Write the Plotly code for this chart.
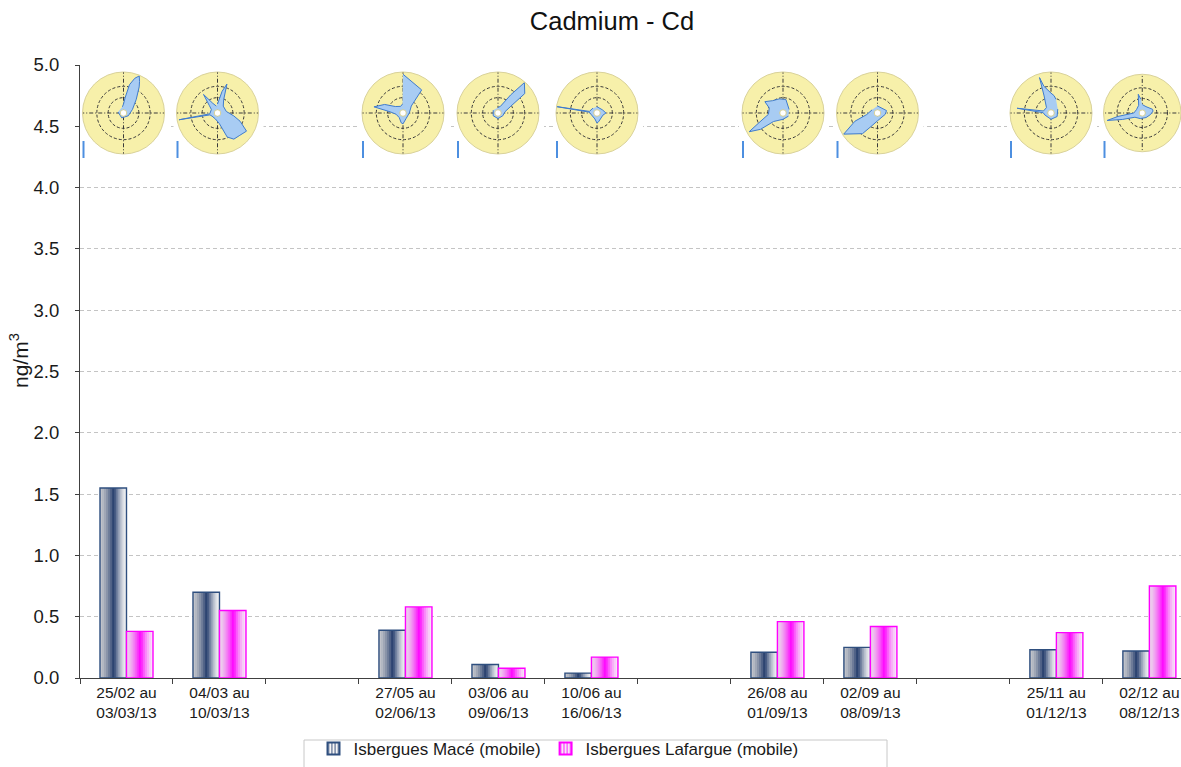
import plotly.graph_objects as go

# ---------------------------------------------------------------- data
periods = [
    "25/02 au<br>03/03/13", "04/03 au<br>10/03/13", " ",
    "27/05 au<br>02/06/13", "03/06 au<br>09/06/13", "10/06 au<br>16/06/13", "  ",
    "26/08 au<br>01/09/13", "02/09 au<br>08/09/13", "   ",
    "25/11 au<br>01/12/13", "02/12 au<br>08/12/13",
]
mace = [1.55, 0.70, None, 0.39, 0.11, 0.04, None, 0.21, 0.25, None, 0.23, 0.22]
lafargue = [0.38, 0.55, None, 0.58, 0.08, 0.17, None, 0.46, 0.42, None, 0.37, 0.75]

series_names = ["Isbergues Macé (mobile)", "Isbergues Lafargue (mobile)"]

# pollution roses (direction in degrees, radius on a 0-10 scale), one per sampled week
rose_theta = [
    [350, 0, 6, 12, 18, 23, 27, 31, 43, 68, 120, 200, 280],
    [0, 12, 18, 25, 40, 80, 100, 110, 122, 135, 148, 158, 170, 200, 240, 256, 260, 264, 300, 312, 323, 334, 350],
    [0, 39, 50, 90, 150, 180, 190, 220, 260, 275, 282, 295, 310, 340, 357],
    [0, 20, 35, 41, 54, 62, 80, 120, 180, 240, 300],
    [0, 60, 90, 110, 170, 180, 200, 260, 276, 279, 282, 320],
    [60, 12, 345, 320, 302, 290, 265, 248, 241, 234, 228, 180, 120],
    [0, 75, 100, 180, 205, 216, 238, 250, 262, 300],
    [20, 10, 0, 345, 342, 338, 320, 285, 278, 272, 250, 180, 120, 60],
    [0, 30, 70, 80, 100, 140, 200, 240, 252, 258, 262, 270, 300, 335, 348, 354],
]
rose_r = [
    [0.8, 1.5, 3.2, 6.8, 8.8, 9.8, 8.5, 7.2, 4.1, 1.7, 0.6, 0.5, 0.6],
    [1.5, 5.0, 7.2, 3.0, 1.5, 1.5, 3.5, 5.5, 8.2, 7.5, 7.3, 6.0, 2.0, 0.8, 0.8, 1.2, 9.5, 1.2, 1.0, 2.0, 5.3, 2.0, 1.0],
    [9.4, 7.0, 2.0, 0.8, 0.8, 2.0, 1.8, 0.7, 1.0, 2.5, 7.0, 4.5, 1.8, 1.0, 1.5],
    [0.6, 1.0, 5.0, 9.8, 7.9, 3.0, 1.0, 0.6, 0.6, 0.6, 0.6],
    [0.8, 0.8, 1.5, 0.8, 1.5, 1.8, 0.8, 0.8, 1.2, 10.0, 1.2, 0.8],
    [1.0, 2.8, 3.0, 3.4, 4.8, 3.0, 3.0, 6.0, 9.4, 6.5, 2.5, 0.8, 0.8],
    [1.0, 1.6, 1.2, 1.2, 3.0, 5.9, 9.7, 5.5, 2.0, 0.8],
    [3.0, 3.8, 4.4, 6.5, 9.0, 4.0, 1.0, 1.2, 8.2, 1.2, 0.8, 0.8, 1.0, 1.2],
    [1.5, 1.2, 2.2, 2.2, 1.5, 0.8, 0.8, 1.5, 5.0, 9.2, 6.0, 1.5, 1.0, 1.5, 4.5, 3.0],
]

# ---------------------------------------------------------------- layout constants
FIG_W, FIG_H = 1181, 767
M_L, M_R, M_T, M_B = 80, 0, 65, 89
PLOT_W = FIG_W - M_L - M_R
PLOT_H = FIG_H - M_T - M_B
X_RANGE = [-0.5, 11.34]
SLOT_PX = PLOT_W / (X_RANGE[1] - X_RANGE[0])
FONT = "Liberation Sans, Arial, sans-serif"

BAR_W = 0.285
N_STRIPS = 13


def lerp(a, b, f):
    return tuple(round(a[i] + (b[i] - a[i]) * f) for i in range(3))


def shade(left, core, right, t, peak=0.52, power=1.5):
    if t < peak:
        f = (t / peak) ** power
        c = lerp(left, core, f)
    else:
        f = ((1 - t) / (1 - peak)) ** power
        c = lerp(right, core, f)
    return "rgb(%d,%d,%d)" % c


def px_x(px):
    return (px - M_L) / PLOT_W


def px_y(py):
    return (FIG_H - M_B - py) / PLOT_H


styles = [
    dict(left=(196, 198, 204), core=(36, 60, 108), right=(246, 246, 246),
         border="#2f4f7f", start=-BAR_W),
    dict(left=(236, 214, 236), core=(255, 0, 255), right=(246, 232, 246),
         border="#ff00ff", start=0.0),
]

fig = go.Figure()

# cylinder-shaded bars: stacked strips, each running to the bar's right edge
for values, st in zip([mace, lafargue], styles):
    step = BAR_W / N_STRIPS
    for k in range(N_STRIPS):
        t = (k + 0.5) / N_STRIPS
        fig.add_trace(go.Bar(
            x=periods, y=values,
            width=BAR_W - k * step, offset=st["start"] + k * step,
            marker=dict(color=shade(st["left"], st["core"], st["right"], t), line=dict(width=0)),
            showlegend=False, hoverinfo="skip",
        ))
    fig.add_trace(go.Bar(
        x=periods, y=values, width=BAR_W, offset=st["start"],
        marker=dict(color="rgba(0,0,0,0)", line=dict(color=st["border"], width=1.4)),
        showlegend=False, hoverinfo="skip",
    ))

# legend keys
for name, st in zip(series_names, styles):
    fig.add_trace(go.Bar(
        x=[None], y=[None], name=name,
        marker=dict(color="rgb(%d,%d,%d)" % st["right"],
                    line=dict(color=st["border"], width=1.2),
                    pattern=dict(shape="|", fgcolor="rgb(%d,%d,%d)" % st["core"],
                                 size=4, solidity=0.5)),
    ))

# ---------------------------------------------------------------- pollution roses
rose_cx = [123.5, 217.5, 403, 498, 597, 783, 877.5, 1051, 1144.5]
rose_cy = 113
rose_R = 41

shapes = []
polar_layouts = {}
for i, (th, rr) in enumerate(zip(rose_theta, rose_r)):
    key = "polar" if i == 0 else "polar%d" % (i + 1)
    cx = rose_cx[i]
    polar_layouts[key] = dict(
        domain=dict(x=[max(0.0, px_x(cx - rose_R)), min(1.0, px_x(cx + rose_R))],
                    y=[px_y(rose_cy + rose_R), px_y(rose_cy - rose_R)]),
        bgcolor="#f7f0aa",
        hole=0.08,
        radialaxis=dict(range=[0, 10], showticklabels=False, ticks="",
                        tickvals=[3.2, 6.2], showgrid=True, gridcolor="#3a3a3a",
                        gridwidth=0.8, griddash="3px,2px", showline=False),
        angularaxis=dict(rotation=90, direction="clockwise", showticklabels=False,
                         ticks="", tickvals=[0, 90, 180, 270], showgrid=True,
                         gridcolor="#3a3a3a", gridwidth=0.8, griddash="4px,2px,1px,2px",
                         showline=True, linecolor="#d9d29a", linewidth=1),
    )
    fig.add_trace(go.Scatterpolar(
        theta=th, r=rr, subplot=key, mode="lines", fill="toself",
        fillcolor="#a8ccf3", line=dict(color="#3f7bcc", width=1),
        showlegend=False, hoverinfo="skip",
    ))
    # white backing of each rose panel (hides the grid behind it)
    bx0 = (cx - 44 - M_L) / SLOT_PX + X_RANGE[0]
    bx1 = (cx + 46 - M_L) / SLOT_PX + X_RANGE[0]
    shapes.append(dict(type="rect", xref="x", yref="y", x0=bx0, x1=bx1, y0=4.22, y1=4.97,
                       fillcolor="white", line=dict(width=0), layer="between"))
    # small colour key in the lower-left corner of each rose panel
    shapes.append(dict(type="rect", xref="paper", yref="paper",
                       x0=px_x(cx - 41), x1=px_x(cx - 39),
                       y0=px_y(158), y1=px_y(141),
                       fillcolor="#4d8fe0", line=dict(width=0), layer="above"))

fig.update_layout(**polar_layouts)

# frame drawn around the legend
shapes.append(dict(type="rect", xref="paper", yref="paper",
                   x0=px_x(304), x1=px_x(887), y0=px_y(790), y1=px_y(740),
                   fillcolor="rgba(0,0,0,0)", line=dict(color="#c8c8c8", width=1),
                   layer="above"))

fig.update_layout(
    width=FIG_W, height=FIG_H,
    margin=dict(l=M_L, r=M_R, t=M_T, b=M_B, autoexpand=False),
    paper_bgcolor="white", plot_bgcolor="white",
    barmode="overlay",
    font=dict(family=FONT, color="#1a1a1a"),
    title=dict(text="Cadmium - Cd", x=612 / FIG_W, xanchor="center", xref="container",
               y=1 - 21 / FIG_H, yanchor="middle", yref="container",
               font=dict(size=25.5, family=FONT, color="#111")),
    xaxis=dict(type="category", categoryorder="array", categoryarray=periods,
               range=X_RANGE, tickson="boundaries", ticks="outside", ticklen=5,
               tickcolor="#404040", showline=True, linecolor="#404040", linewidth=1,
               showgrid=False, zeroline=False, tickfont=dict(size=15.5, color="#1a1a1a"),
               fixedrange=True),
    yaxis=dict(range=[0, 5], dtick=0.5, tick0=0, tickformat=".1f", ticks="outside",
               ticklen=4, tickcolor="#404040", showline=True, linecolor="#404040",
               linewidth=1, showgrid=True, gridcolor="#c4c4c4", griddash="4px,3px",
               gridwidth=1, zeroline=False, ticklabelstandoff=12,
               tickfont=dict(size=18.5, color="#1a1a1a"), fixedrange=True),
    legend=dict(orientation="h", x=px_x(558.5), xanchor="center",
                y=px_y(731), yanchor="top",
                borderwidth=0, bgcolor="rgba(0,0,0,0)",
                font=dict(size=17, family=FONT, color="#1a1a1a"),
                itemsizing="constant", traceorder="normal"),
    shapes=shapes,
    annotations=[dict(text="ng/m<sup>3</sup>", xref="paper", yref="paper",
                      x=px_x(19), y=px_y(361),
                      textangle=-90, showarrow=False, xanchor="center", yanchor="middle",
                      font=dict(size=21, family=FONT, color="#1a1a1a"))],
    showlegend=True,
)

fig.write_html("out.html")
